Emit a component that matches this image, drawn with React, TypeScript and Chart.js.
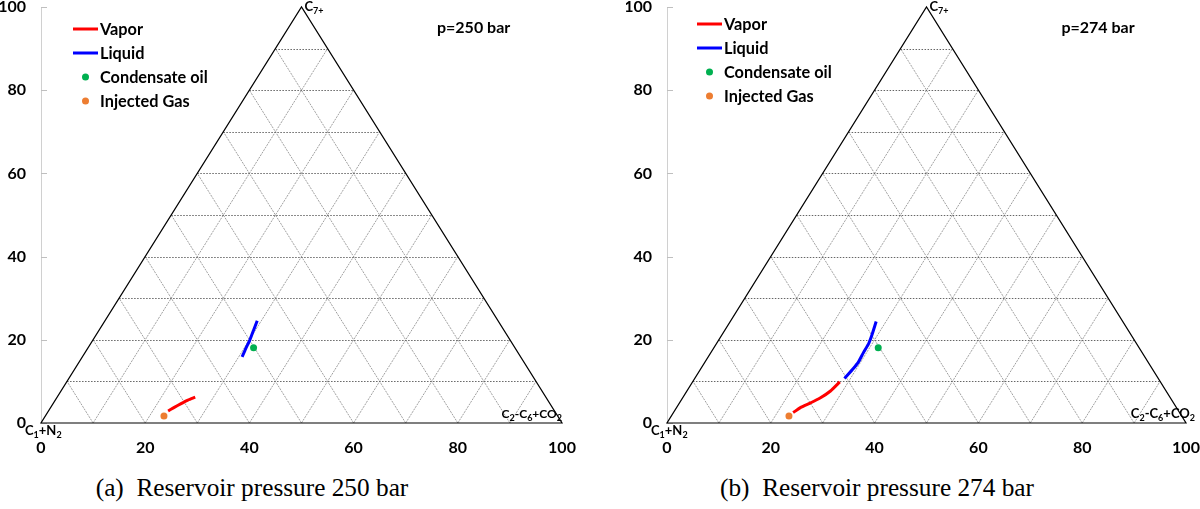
import { useEffect, useRef } from "react";
import { Chart, registerables } from "chart.js";

Chart.register(...registerables);

// ---------- data ----------
const axisTicks = [0, 20, 40, 60, 80, 100];
const gridSteps = [10, 20, 30, 40, 50, 60, 70, 80, 90];
const seriesNames = ["Vapor", "Liquid", "Condensate oil", "Injected Gas"];
const seriesColors = ["#ff0000", "#0000ff", "#00b050", "#ed7d31"];

// (a) 250 bar
const vapor250X = [24.4, 25.5, 26.8, 28.2, 29.6];
const vapor250Y = [2.9, 3.7, 4.6, 5.5, 6.2];
const liquid250X = [38.6, 39.3, 40.1, 40.8, 41.5];
const liquid250Y = [15.9, 17.9, 20.0, 22.3, 24.6];
const condensate250 = [40.8, 18.1];
const injected250 = [23.6, 1.7];

// (b) 274 bar
const vapor274X = [24.3, 25.7, 27.6, 29.5, 31.5, 33.3];
const vapor274Y = [2.5, 3.7, 4.8, 6.0, 7.7, 9.9];
const liquid274X = [34.2, 35.9, 36.9, 37.8, 38.9, 39.5, 40.3];
const liquid274Y = [10.7, 13.1, 14.7, 16.8, 19.2, 21.2, 24.4];
const condensate274 = [40.7, 18.1];
const injected274 = [23.5, 1.7];

const pressureLabels = ["p=250 bar", "p=274 bar"];
const captions = ["(a)  Reservoir pressure 250 bar", "(b)  Reservoir pressure 274 bar"];

const FONT = "Lato, 'Liberation Sans', sans-serif";

type Part = [string, boolean];

function drawRich(ctx: CanvasRenderingContext2D, parts: Part[], x: number, y: number, size: number, align: "left" | "right") {
  const sub = Math.round(size * 0.72);
  let total = 0;
  for (const [t, s] of parts) {
    ctx.font = `bold ${s ? sub : size}px ${FONT}`;
    total += ctx.measureText(t).width;
  }
  let cx = align === "left" ? x : x - total;
  ctx.textAlign = "left";
  ctx.textBaseline = "alphabetic";
  ctx.fillStyle = "#000";
  for (const [t, s] of parts) {
    ctx.font = `bold ${s ? sub : size}px ${FONT}`;
    ctx.fillText(t, cx, s ? y + 3 : y);
    cx += ctx.measureText(t).width;
  }
}

function makeTernaryPlugin(cfg: any) {
  return {
    id: "ternary",
    beforeDatasetsDraw(chart: any) {
      const { ctx, chartArea } = chart;
      const xs = chart.scales.x;
      const ys = chart.scales.y;
      const P = (x: number, y: number) => [xs.getPixelForValue(x), ys.getPixelForValue(y)];
      const seg = (a: number[], b: number[]) => {
        ctx.beginPath();
        ctx.moveTo(a[0], a[1]);
        ctx.lineTo(b[0], b[1]);
        ctx.stroke();
      };
      ctx.save();
      // inside tick marks of the y axis
      ctx.strokeStyle = "#bfbfbf";
      ctx.lineWidth = 1;
      for (const v of axisTicks) {
        const py = Math.round(ys.getPixelForValue(v)) + 0.5;
        seg([chartArea.left, py], [chartArea.left + 6, py]);
      }
      // diagonal grid
      ctx.strokeStyle = "#a0a0a0";
      ctx.setLineDash([2, 1]);
      for (const k of gridSteps) {
        seg(P(k, 0), P(50 + k / 2, 100 - k));
        seg(P(k, 0), P(k / 2, k));
      }
      // horizontal grid
      ctx.strokeStyle = "#666666";
      ctx.setLineDash([1.5, 1.5]);
      for (const k of gridSteps) {
        const a = P(k / 2, k);
        const b = P(100 - k / 2, k);
        a[1] = Math.round(a[1]) + 0.5;
        b[1] = a[1];
        seg(a, b);
      }
      // triangle outline
      ctx.setLineDash([]);
      ctx.strokeStyle = "#000";
      ctx.lineWidth = 1.2;
      ctx.beginPath();
      const A = P(0, 0), B = P(100, 0), C = P(50, 100);
      ctx.moveTo(A[0], A[1]);
      ctx.lineTo(B[0], B[1]);
      ctx.lineTo(C[0], C[1]);
      ctx.closePath();
      ctx.stroke();
      ctx.restore();
    },
    afterDatasetsDraw(chart: any) {
      const { ctx, chartArea } = chart;
      const xs = chart.scales.x;
      const ys = chart.scales.y;
      ctx.save();
      // corner labels
      drawRich(ctx, [["C", false], ["1", true], ["+N", false], ["2", true]], chartArea.left - 16, chartArea.bottom + 12, 13, "left");
      drawRich(ctx, [["C", false], ["7+", true]], xs.getPixelForValue(50) + 3, chartArea.top + 4, 13, "left");
      drawRich(
        ctx,
        [["C", false], ["2", true], ["-C", false], ["6", true], ["+CO", false], ["2", true]],
        chartArea.right + cfg.compOffset,
        chartArea.bottom - 5,
        cfg.compSize,
        "right"
      );
      // pressure label
      ctx.font = `bold 16px ${FONT}`;
      ctx.fillStyle = "#000";
      ctx.textAlign = "left";
      ctx.textBaseline = "middle";
      ctx.fillText(cfg.pLabel, xs.getPixelForValue(76), ys.getPixelForValue(95));
      // legend
      const lx = chartArea.left + cfg.legendX;
      chart.data.datasets.forEach((ds: any, i: number) => {
        const y = chartArea.top + cfg.legendY + i * 24;
        ctx.strokeStyle = ds.borderColor;
        ctx.fillStyle = ds.backgroundColor;
        if (ds.showLine) {
          ctx.lineWidth = 3;
          ctx.beginPath();
          ctx.moveTo(lx, y);
          ctx.lineTo(lx + 25, y);
          ctx.stroke();
        } else {
          ctx.beginPath();
          ctx.arc(lx + 12.5, y, 3.5, 0, Math.PI * 2);
          ctx.fill();
        }
        ctx.fillStyle = "#000";
        ctx.font = `bold 16.3px ${FONT}`;
        ctx.textBaseline = "middle";
        ctx.fillText(ds.label, lx + 27, y + 1);
      });
      ctx.restore();
    },
  };
}

function zip(xs: number[], ys: number[]) {
  return xs.map((x, i) => ({ x, y: ys[i] }));
}

function TernaryChart(props: { idx: number; padRight: number; cfg: any }) {
  const ref = useRef<HTMLCanvasElement>(null);
  useEffect(() => {
    const { idx, padRight, cfg } = props;
    const vx = idx === 0 ? vapor250X : vapor274X;
    const vy = idx === 0 ? vapor250Y : vapor274Y;
    const lqx = idx === 0 ? liquid250X : liquid274X;
    const lqy = idx === 0 ? liquid250Y : liquid274Y;
    const co = idx === 0 ? condensate250 : condensate274;
    const ig = idx === 0 ? injected250 : injected274;
    const tickFont = { family: FONT, size: 16, weight: "bold" as const };
    const chart = new Chart(ref.current as HTMLCanvasElement, {
      type: "scatter",
      data: {
        datasets: [
          { label: seriesNames[0], data: zip(vx, vy), showLine: true, borderColor: seriesColors[0], backgroundColor: seriesColors[0], borderWidth: 3, pointRadius: 0, tension: 0.2 },
          { label: seriesNames[1], data: zip(lqx, lqy), showLine: true, borderColor: seriesColors[1], backgroundColor: seriesColors[1], borderWidth: 3, pointRadius: 0, tension: 0.2 },
          { label: seriesNames[2], data: [{ x: co[0], y: co[1] }], showLine: false, borderColor: seriesColors[2], backgroundColor: seriesColors[2], pointRadius: 3.5, borderWidth: 0 },
          { label: seriesNames[3], data: [{ x: ig[0], y: ig[1] }], showLine: false, borderColor: seriesColors[3], backgroundColor: seriesColors[3], pointRadius: 3.5, borderWidth: 0 },
        ],
      },
      options: {
        animation: false,
        responsive: false,
        maintainAspectRatio: false,
        layout: { padding: { left: 0, right: padRight, top: 7, bottom: 0 } },
        plugins: { legend: { display: false }, tooltip: { enabled: false } },
        scales: {
          x: {
            type: "linear",
            min: 0,
            max: 100,
            grid: { display: false, drawTicks: false },
            border: { display: false },
            ticks: { font: tickFont, color: "#000", padding: 15, maxRotation: 0 },
            afterBuildTicks: (s: any) => {
              s.ticks = axisTicks.map((v) => ({ value: v }));
            },
            afterFit: (s: any) => {
              s.height = 39;
              s.paddingLeft = 0;
              s.paddingRight = 0;
            },
          },
          y: {
            type: "linear",
            min: 0,
            max: 100,
            grid: { display: false, drawTicks: false },
            border: { display: true, color: "#d0d0d0", width: 1 },
            ticks: { font: tickFont, color: "#000", padding: 15 },
            afterBuildTicks: (s: any) => {
              s.ticks = axisTicks.map((v) => ({ value: v }));
            },
            afterFit: (s: any) => {
              s.width = 41;
              s.paddingTop = 0;
              s.paddingBottom = 0;
            },
          },
        },
      },
      plugins: [makeTernaryPlugin(cfg)],
    });
    return () => chart.destroy();
  }, []);
  return <canvas ref={ref} width={props.idx === 0 ? 600 : 574} height={462} style={{ display: "block" }} />;
}

export default function App() {
  const captionStyle: any = {
    position: "absolute",
    top: 472,
    width: 500,
    textAlign: "center",
    fontFamily: "'Liberation Serif', 'Times New Roman', serif",
    fontSize: 25.3,
    lineHeight: "31px",
    whiteSpace: "pre",
    color: "#000",
  };
  return (
    <div style={{ position: "absolute", left: 0, top: 0, width: 1200, height: 509, background: "#fff", overflow: "hidden" }}>
      <div style={{ position: "absolute", left: 0, top: 0 }}>
        <TernaryChart idx={0} padRight={38} cfg={{ pLabel: pressureLabels[0], legendX: 32, legendY: 22, compOffset: 0, compSize: 12 }} />
      </div>
      <div style={{ position: "absolute", left: 626, top: 0 }}>
        <TernaryChart idx={1} padRight={14} cfg={{ pLabel: pressureLabels[1], legendX: 30, legendY: 17, compOffset: 9, compSize: 13 }} />
      </div>
      <div style={{ ...captionStyle, left: 2 }}>{captions[0]}</div>
      <div style={{ ...captionStyle, left: 627 }}>{captions[1]}</div>
    </div>
  );
}
